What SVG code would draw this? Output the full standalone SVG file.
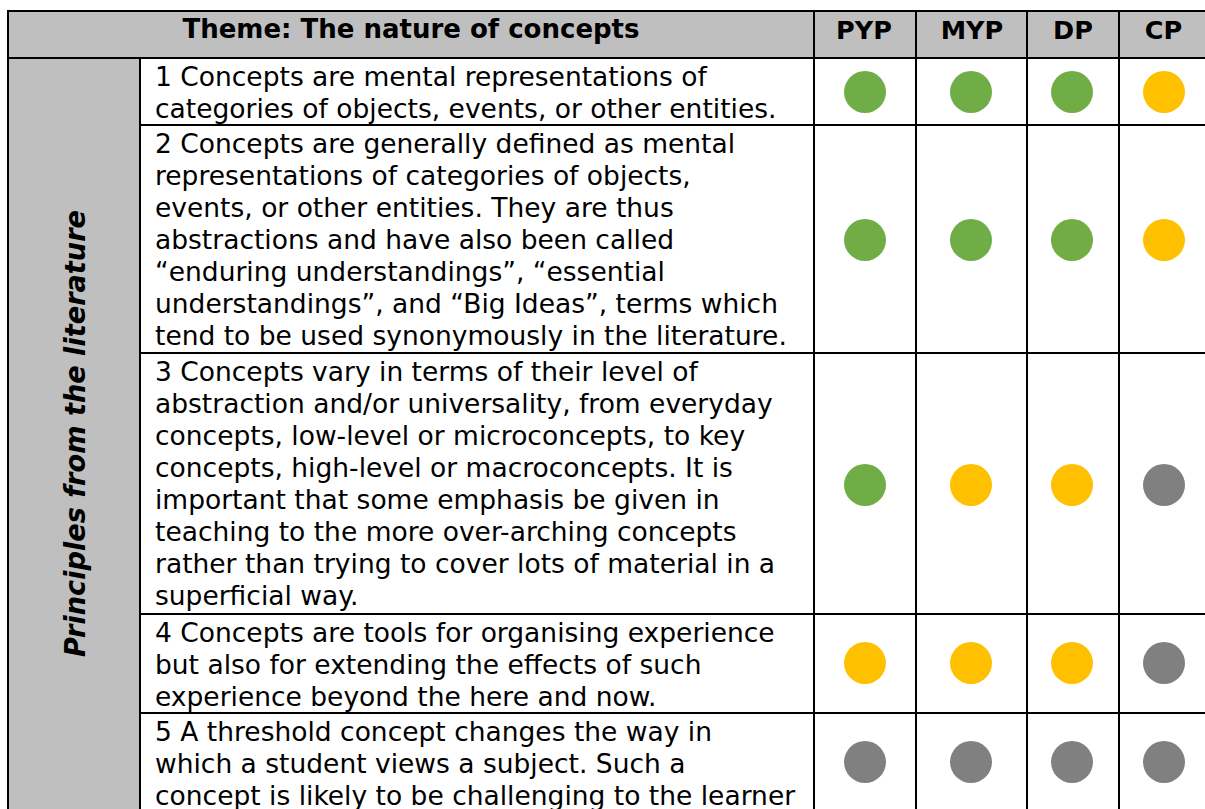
<svg xmlns="http://www.w3.org/2000/svg" width="1205" height="809" viewBox="0 0 1205 809">
<style>
.hdr{fill:#BFBFBF}
.ln{stroke:#000;stroke-width:2;fill:none}
.t{font-family:"DejaVu Sans","Liberation Sans",sans-serif;font-size:26.5px;fill:#000}
.th{font-family:"DejaVu Sans","Liberation Sans",sans-serif;font-size:26px;font-weight:bold;fill:#000;text-anchor:middle}
.ch{font-family:"DejaVu Sans","Liberation Sans",sans-serif;font-size:25.5px;font-weight:bold;fill:#000;text-anchor:middle}
.vt{font-family:"DejaVu Sans","Liberation Sans",sans-serif;font-size:28px;font-style:italic;font-weight:bold;fill:#000}
.g{fill:#70AD47}
.y{fill:#FFC000}
.k{fill:#808080}
</style>
<rect width="1205" height="809" fill="#fff"/>
<g id="header">
<rect class="hdr" x="8" y="11" width="1197" height="47"/>
<text class="th" x="411" y="38">Theme: The nature of concepts</text>
<text class="ch" x="864" y="39">PYP</text>
<text class="ch" x="972" y="39">MYP</text>
<text class="ch" x="1073" y="39">DP</text>
<text class="ch" x="1163.5" y="39">CP</text>
</g>
<g id="side-label">
<rect class="hdr" x="8" y="58" width="132" height="751"/>
<text class="vt" transform="translate(85,657) rotate(-90)" textLength="447" lengthAdjust="spacingAndGlyphs">Principles from the literature</text>
</g>
<g id="row1">
<text class="t" x="155" y="86">1 Concepts are mental representations of</text>
<text class="t" x="155" y="118">categories of objects, events, or other entities.</text>
<circle class="g" cx="865" cy="92" r="21"/><circle class="g" cx="971" cy="92" r="21"/><circle class="g" cx="1072" cy="92" r="21"/><circle class="y" cx="1164" cy="92" r="21"/>
</g>
<g id="row2">
<text class="t" x="155" y="153">2 Concepts are generally defined as mental</text>
<text class="t" x="155" y="185">representations of categories of objects,</text>
<text class="t" x="155" y="217">events, or other entities. They are thus</text>
<text class="t" x="155" y="249">abstractions and have also been called</text>
<text class="t" x="155" y="281">“enduring understandings”, “essential</text>
<text class="t" x="155" y="313">understandings”, and “Big Ideas”, terms which</text>
<text class="t" x="155" y="345">tend to be used synonymously in the literature.</text>
<circle class="g" cx="865" cy="240" r="21"/><circle class="g" cx="971" cy="240" r="21"/><circle class="g" cx="1072" cy="240" r="21"/><circle class="y" cx="1164" cy="240" r="21"/>
</g>
<g id="row3">
<text class="t" x="155" y="381">3 Concepts vary in terms of their level of</text>
<text class="t" x="155" y="413">abstraction and/or universality, from everyday</text>
<text class="t" x="155" y="445">concepts, low-level or microconcepts, to key</text>
<text class="t" x="155" y="477">concepts, high-level or macroconcepts. It is</text>
<text class="t" x="155" y="509">important that some emphasis be given in</text>
<text class="t" x="155" y="541">teaching to the more over-arching concepts</text>
<text class="t" x="155" y="573">rather than trying to cover lots of material in a</text>
<text class="t" x="155" y="605">superficial way.</text>
<circle class="g" cx="865" cy="485" r="21"/><circle class="y" cx="971" cy="485" r="21"/><circle class="y" cx="1072" cy="485" r="21"/><circle class="k" cx="1164" cy="485" r="21"/>
</g>
<g id="row4">
<text class="t" x="155" y="642">4 Concepts are tools for organising experience</text>
<text class="t" x="155" y="674">but also for extending the effects of such</text>
<text class="t" x="155" y="706">experience beyond the here and now.</text>
<circle class="y" cx="865" cy="663" r="21"/><circle class="y" cx="971" cy="663" r="21"/><circle class="y" cx="1072" cy="663" r="21"/><circle class="k" cx="1164" cy="663" r="21"/>
</g>
<g id="row5">
<text class="t" x="155" y="741">5 A threshold concept changes the way in</text>
<text class="t" x="155" y="773">which a student views a subject. Such a</text>
<text class="t" x="155" y="805">concept is likely to be challenging to the learner</text>
<circle class="k" cx="865" cy="762" r="21"/><circle class="k" cx="971" cy="762" r="21"/><circle class="k" cx="1072" cy="762" r="21"/><circle class="k" cx="1164" cy="762" r="21"/>
</g>
<g id="grid">
<line class="ln" x1="8" y1="11" x2="1205" y2="11"/>
<line class="ln" x1="8" y1="58" x2="1205" y2="58"/>
<line class="ln" x1="8" y1="10" x2="8" y2="809"/>
<line class="ln" x1="140" y1="58" x2="140" y2="809"/>
<line class="ln" x1="814" y1="11" x2="814" y2="809"/>
<line class="ln" x1="916" y1="11" x2="916" y2="809"/>
<line class="ln" x1="1027" y1="11" x2="1027" y2="809"/>
<line class="ln" x1="1119" y1="11" x2="1119" y2="809"/>
<line class="ln" x1="140" y1="125" x2="1205" y2="125"/>
<line class="ln" x1="140" y1="353" x2="1205" y2="353"/>
<line class="ln" x1="140" y1="614" x2="1205" y2="614"/>
<line class="ln" x1="140" y1="713" x2="1205" y2="713"/>
</g>
</svg>
